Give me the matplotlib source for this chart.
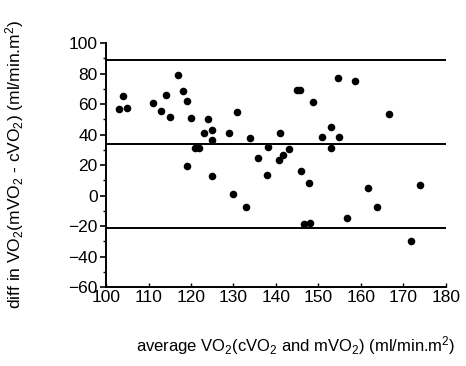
import matplotlib
matplotlib.use("Agg")
import matplotlib.pyplot as plt
from matplotlib.ticker import MultipleLocator

plt.rcParams['font.family'] = ['Liberation Sans', 'DejaVu Sans']
plt.rcParams['mathtext.fontset'] = 'custom'
plt.rcParams['mathtext.rm'] = 'Liberation Sans'
plt.rcParams['mathtext.it'] = 'Liberation Sans'
plt.rcParams['mathtext.default'] = 'regular'

avg_vo2 = [103.1, 104.1, 105.0, 111.0, 113.0, 114.0, 115.0, 116.9, 118.0, 119.1,
           120.0, 124.0, 123.1, 124.9, 125.0, 130.8, 129.0, 134.0, 120.9, 121.9,
           119.1, 124.9, 135.8, 138.1, 138.0, 154.7, 158.7, 144.9, 145.6, 148.8,
           166.7, 140.9, 152.9, 150.8, 154.8, 143.1, 141.7, 140.7, 152.9, 145.8,
           147.8, 161.6, 163.8, 173.9, 156.8, 146.7, 148.0, 171.7, 129.8, 132.9]
diff_vo2 = [56.9, 65.0, 57.2, 60.7, 55.2, 66.1, 51.7, 78.8, 68.7, 62.2,
            50.6, 50.2, 41.2, 43.0, 36.2, 54.6, 40.8, 37.5, 30.9, 30.9,
            19.1, 12.8, 24.8, 32.0, 13.4, 77.3, 75.3, 69.2, 69.2, 61.1,
            53.4, 40.8, 44.7, 38.4, 38.6, 30.5, 26.6, 23.1, 31.1, 16.1,
            8.0, 4.7, -7.5, 6.9, -15.0, -18.5, -17.8, -29.6, 0.8, -7.7]
ref_lines = [89.0, 34.0, -21.3]

fig = plt.figure(figsize=(4.66, 3.66), dpi=100)
ax = fig.add_axes([0.2275, 0.2158, 0.957 - 0.2275, 0.8825 - 0.2158])

ax.scatter(avg_vo2, diff_vo2, s=30, color='black', zorder=3, linewidths=0)
for r in ref_lines:
    ax.axhline(r, color='black', lw=1.4, zorder=2)

ax.set_xlim(100, 180)
ax.set_ylim(-60, 100)
ax.xaxis.set_major_locator(MultipleLocator(10))
ax.yaxis.set_major_locator(MultipleLocator(20))
ax.yaxis.set_minor_locator(MultipleLocator(10))
ax.spines['top'].set_visible(False)
ax.spines['right'].set_visible(False)
ax.spines['left'].set_linewidth(1.4)
ax.spines['bottom'].set_linewidth(1.4)
ax.tick_params(axis='y', which='major', direction='out', length=4, width=1.2, labelsize=12.5, pad=2)
ax.tick_params(axis='y', which='minor', direction='out', length=2, width=1.0)
ax.tick_params(axis='x', which='major', direction='in', length=3, width=1.0, labelsize=12.5, pad=2)

fig.text(0.635, 0.057, 'average VO$_2$(cVO$_2$ and mVO$_2$) (ml/min.m$^2$)',
         fontsize=12, ha='center', va='center')
fig.text(0.032, 0.55, 'diff in VO$_2$(mVO$_2$ - cVO$_2$) (ml/min.m$^2$)',
         fontsize=12.5, ha='center', va='center', rotation=90)

fig.savefig('out.png', dpi=100)
